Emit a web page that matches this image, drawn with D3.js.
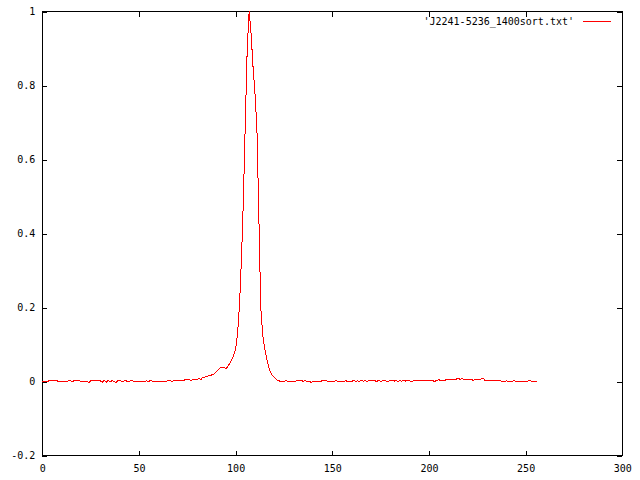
<!DOCTYPE html>
<html>
<head>
<meta charset="utf-8" />
<title>J2241-5236_1400sort.txt</title>
<script src="https://cdn.jsdelivr.net/npm/d3@7/dist/d3.min.js"></script>
<style>
  body { margin: 0; background: #fff; }
  svg { display: block; }
  .axis text { font-family: "DejaVu Sans Mono", "Liberation Mono", monospace; font-size: 10px; fill: #000; }
</style>
</head>
<body>
<script>
// profile values, one per bin (bin 0 .. 256)
var profile = [
  0.000, 0.001, 0.001, 0.001, 0.003, 0.003, 0.003, 0.003, 0.001, 0.000,
  0.000, 0.001, 0.000, 0.001, 0.003, 0.001, 0.001, 0.003, 0.003, 0.002,
  0.000, 0.001, 0.000, 0.000, -0.003, 0.002, 0.003, 0.003, 0.002, 0.003,
  0.002, -0.002, 0.003, -0.002, 0.003, -0.001, 0.002, 0.001, -0.003, 0.002,
  0.002, 0.001, 0.001, 0.003, 0.000, 0.001, 0.003, 0.001, 0.001, 0.000,
  0.000, 0.001, 0.000, 0.000, 0.002, 0.000, 0.003, 0.000, 0.001, 0.000,
  0.000, 0.000, 0.000, 0.001, 0.001, 0.002, 0.003, 0.000, 0.003, 0.002,
  0.002, 0.002, 0.003, 0.003, 0.005, 0.005, 0.005, 0.003, 0.005, 0.005,
  0.005, 0.008, 0.005, 0.012, 0.012, 0.014, 0.015, 0.016, 0.019, 0.021,
  0.026, 0.031, 0.037, 0.038, 0.038, 0.035, 0.041, 0.049, 0.060, 0.071,
  0.087, 0.130, 0.207, 0.330, 0.490, 0.700, 0.900, 1.000, 0.940, 0.850,
  0.780, 0.685, 0.450, 0.200, 0.125, 0.090, 0.063, 0.041, 0.025, 0.017,
  0.012, 0.006, 0.002, 0.001, 0.000, 0.000, 0.003, 0.000, 0.000, 0.000,
  0.000, 0.001, 0.003, 0.002, 0.003, 0.000, 0.003, 0.000, 0.000, -0.002,
  0.000, 0.000, 0.001, 0.000, 0.000, 0.003, 0.003, 0.002, 0.000, 0.000,
  0.001, 0.000, 0.003, 0.000, 0.000, 0.001, 0.000, 0.002, 0.000, 0.001,
  0.000, 0.003, 0.000, 0.002, 0.000, 0.003, 0.001, 0.002, 0.000, 0.003,
  0.001, 0.003, 0.002, 0.000, 0.003, 0.000, 0.002, 0.003, 0.001, 0.001,
  0.002, 0.003, 0.001, 0.003, 0.000, 0.002, 0.001, 0.003, 0.001, 0.003,
  0.002, 0.000, 0.002, 0.002, 0.002, 0.002, 0.003, 0.002, 0.002, 0.003,
  0.002, 0.002, 0.002, 0.000, 0.003, 0.005, 0.003, 0.003, 0.003, 0.005,
  0.005, 0.005, 0.005, 0.005, 0.006, 0.009, 0.006, 0.008, 0.005, 0.006,
  0.006, 0.005, 0.005, 0.003, 0.006, 0.006, 0.006, 0.007, 0.009, 0.003,
  0.002, 0.002, 0.002, 0.002, 0.002, 0.002, 0.002, 0.002, 0.000, 0.000,
  0.002, 0.000, 0.001, 0.000, 0.002, 0.001, 0.000, 0.000, 0.000, 0.000,
  0.000, 0.001, 0.002, 0.001, 0.000, 0.000, 0.000
];
var xTicks = [0, 50, 100, 150, 200, 250, 300];
var yTicks = [-0.2, 0, 0.2, 0.4, 0.6, 0.8, 1];
var seriesTitle = "'J2241-5236_1400sort.txt'";

var W = 640, H = 480;
var plotL = 42.3, plotR = 622.3, plotT = 11.5, plotB = 455.5;

var svg = d3.select("body").append("svg")
  .attr("width", W).attr("height", H);

var x = d3.scaleLinear().domain([0, 300]).range([plotL, plotR]);
var y = d3.scaleLinear().domain([-0.2, 1]).range([plotB, plotT]);

var fmt = function(d) { return String(+d.toFixed(1)); };

// bottom + top ticks
svg.append("g").attr("class", "axis")
  .attr("transform", "translate(0," + plotB + ")")
  .call(d3.axisBottom(x).tickValues(xTicks).tickFormat(fmt)
    .tickSizeInner(-5).tickSizeOuter(0).tickPadding(9));
svg.append("g").attr("class", "axis")
  .attr("transform", "translate(0," + plotT + ")")
  .call(d3.axisTop(x).tickValues(xTicks).tickFormat("")
    .tickSizeInner(-5).tickSizeOuter(0));

// left + right ticks
svg.append("g").attr("class", "axis")
  .attr("transform", "translate(" + plotL + ",0)")
  .call(d3.axisLeft(y).tickValues(yTicks).tickFormat(fmt)
    .tickSizeInner(-5).tickSizeOuter(0).tickPadding(7));
svg.append("g").attr("class", "axis")
  .attr("transform", "translate(" + plotR + ",0)")
  .call(d3.axisRight(y).tickValues(yTicks).tickFormat("")
    .tickSizeInner(-5).tickSizeOuter(0));

svg.selectAll(".axis .domain").remove();
svg.selectAll(".axis line").attr("stroke", "#000").attr("shape-rendering", "crispEdges");

// border
svg.append("rect")
  .attr("x", plotL).attr("y", plotT)
  .attr("width", plotR - plotL).attr("height", plotB - plotT)
  .attr("fill", "none").attr("stroke", "#000")
  .attr("shape-rendering", "crispEdges");

var line = d3.line()
  .x(function(d, i) { return x(i); })
  .y(function(d) { return y(d); });

svg.append("path")
  .datum(profile)
  .attr("fill", "none")
  .attr("stroke", "#ff0000")
  .attr("stroke-width", 1)
  .attr("shape-rendering", "crispEdges")
  .attr("d", line);

// key
svg.append("text")
  .attr("x", 574).attr("y", 21.5).attr("dy", "0.35em")
  .attr("text-anchor", "end")
  .style("font-family", "'DejaVu Sans Mono', 'Liberation Mono', monospace")
  .style("font-size", "10px")
  .text(seriesTitle);
svg.append("line")
  .attr("x1", 583).attr("x2", 611)
  .attr("y1", 21.5).attr("y2", 21.5)
  .attr("stroke", "#ff0000")
  .attr("shape-rendering", "crispEdges");
</script>
</body>
</html>
